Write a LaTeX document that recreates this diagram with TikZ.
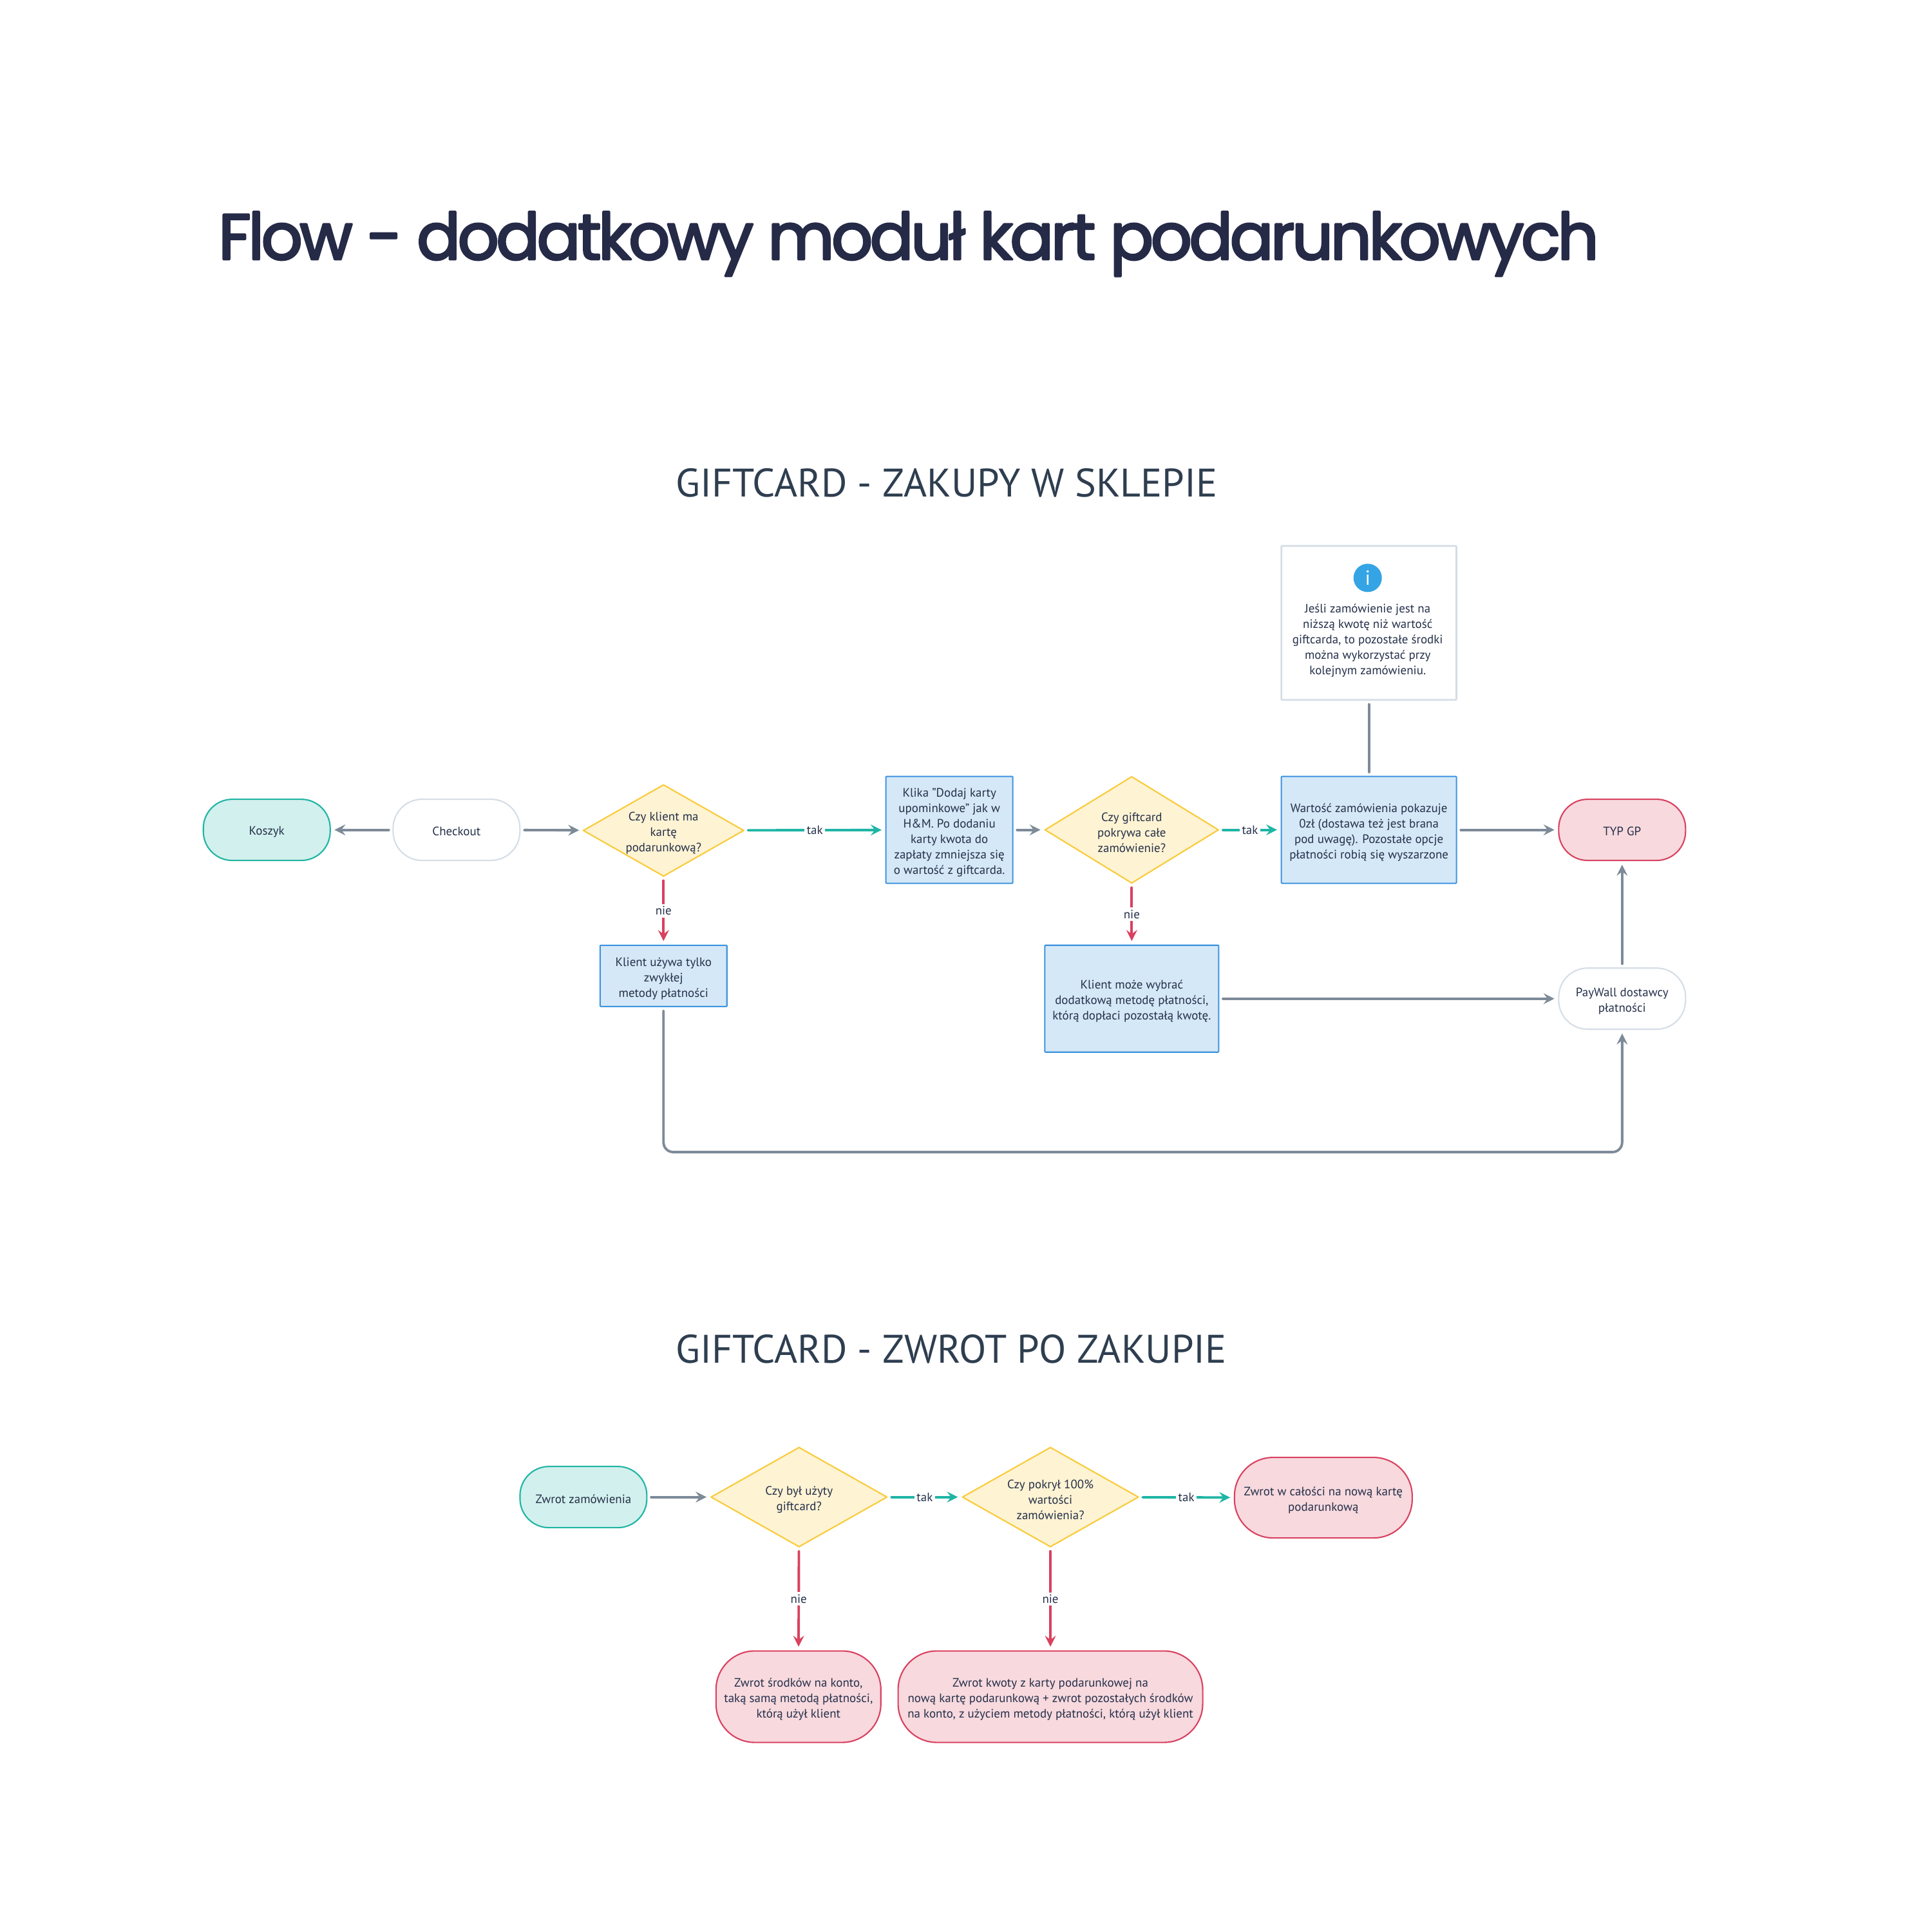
\documentclass[tikz,border=0pt]{standalone}
\usepackage{fontspec}
\setmainfont{PT Sans}
\newfontfamily\titlefont[LetterSpace=-4.4,FakeBold=3.2]{Poppins}
\usetikzlibrary{shapes.geometric}
\definecolor{inkdark}{HTML}{25304A}
\definecolor{titleink}{HTML}{252A47}
\definecolor{headink}{HTML}{2E3E50}
\definecolor{linegrey}{HTML}{7D8A98}
\definecolor{paleedge}{HTML}{D5DDE6}
\definecolor{tealedge}{HTML}{1FB5A5}
\definecolor{tealfill}{HTML}{D2F0ED}
\definecolor{blueedge}{HTML}{3D94E0}
\definecolor{bluefill}{HTML}{D5E8F7}
\definecolor{yellowedge}{HTML}{F9CB3A}
\definecolor{yellowfill}{HTML}{FEF3D3}
\definecolor{rededge}{HTML}{D9415F}
\definecolor{redfill}{HTML}{F7D9DE}
\newcommand{\lowtext}{\rule{0pt}{6.2pt}}
\newcommand{\lowline}{\rule{0pt}{5.4pt}}
\tikzset{
	boxtext/.style={align=center, text=inkdark, inner sep=0pt, font=\fontsize{5.4}{6.8}\selectfont},
	pill/.style={boxtext, rectangle, draw, line width=0.6pt, rounded corners=0.45cm, minimum width=1.97cm, minimum height=0.95cm},
	startpill/.style={pill, draw=tealedge, fill=tealfill},
	plainpill/.style={pill, draw=paleedge, fill=white},
	endpill/.style={pill, draw=rededge, fill=redfill},
	stepbox/.style={boxtext, rectangle, draw=blueedge, fill=bluefill, line width=0.6pt, rounded corners=0.3pt},
	notebox/.style={rectangle, draw=paleedge, fill=white, line width=0.8pt, rounded corners=0.3pt},
	decision/.style={boxtext, diamond, shape aspect=1.7, draw=yellowedge, fill=yellowfill, line width=0.6pt},
	flow/.style={->, line width=1.1pt, draw=linegrey, shorten <=1.6pt, shorten >=1.6pt},
	flowyes/.style={flow, draw=tealedge},
	flowno/.style={flow, draw=rededge},
	edgetext/.style={midway, fill=white, text=inkdark, inner sep=1pt, font=\fontsize{5.4}{6.8}\selectfont},
	headline/.style={anchor=west, text=headink, inner sep=0pt, font=\fontsize{17.6}{20}\selectfont}
}
\begin{document}
\begin{tikzpicture}[x=0.01913cm, y=-0.01913cm, line join=round, line cap=round, >=stealth]
	\useasboundingbox (0,0) rectangle (1568,1568);
	\node[anchor=west, text=titleink, inner sep=0pt, font=\titlefont\fontsize{28.5}{30}\selectfont] (title) at (177,198) {Flow - dodatkowy moduł kart podarunkowych};
	\node[headline] (headshop) at (548,392) {GIFTCARD - ZAKUPY W SKLEPIE};
	\node[headline] (headreturn) at (548,1095) {GIFTCARD - ZWROT PO ZAKUPIE};

	\node[startpill] (cart) at (216.5,673.5) {\lowline Koszyk};
	\node[plainpill] (checkout) at (370.5,673.5) {\lowline Checkout};
	\node[decision, minimum width=2.5cm, minimum height=1.42cm] (hascard) at (538.5,674) {\lowtext Czy klient ma\\kartę\\podarunkową?};
	\node[stepbox, minimum width=1.97cm, minimum height=1.66cm] (addcard) at (770.5,673.5) {\lowtext Klika "Dodaj karty\\upominkowe" jak w\\H\&M. Po dodaniu\\karty kwota do\\zapłaty zmniejsza się\\o wartość z giftcarda.};
	\node[decision, minimum width=2.7cm, minimum height=1.66cm] (covers) at (918.5,673.5) {\lowtext Czy giftcard\\pokrywa całe\\zamówienie?};
	\node[stepbox, minimum width=2.72cm, minimum height=1.66cm] (zerototal) at (1111,673.5) {\lowtext Wartość zamówienia pokazuje\\0zł (dostawa też jest brana\\pod uwagę). Pozostałe opcje\\płatności robią się wyszarzone};
	\node[endpill] (thanks) at (1316.5,673.5) {\lowline TYP GP};
	\node[notebox, minimum width=2.72cm, minimum height=2.39cm] (note) at (1111,505.5) {};
	\node[circle, fill=blueedge!85!cyan, text=white, inner sep=0pt, minimum size=0.44cm, font=\fontsize{9}{9}\selectfont] (noteicon) at (1110,469) {i};
	\node[boxtext] (notetext) at (1110,520) {Jeśli zamówienie jest na\\niższą kwotę niż wartość\\giftcarda, to pozostałe środki\\można wykorzystać przy\\kolejnym zamówieniu.};
	\node[stepbox, minimum width=1.97cm, minimum height=0.95cm] (onlyusual) at (538.5,792) {\lowtext Klient używa tylko\\zwykłej\\metody płatności};
	\node[stepbox, minimum width=2.7cm, minimum height=1.66cm] (extrapay) at (918.5,810.5) {\lowtext Klient może wybrać\\dodatkową metodę płatności,\\którą dopłaci pozostałą kwotę.};
	\node[plainpill] (paywall) at (1316.5,810.5) {\lowtext PayWall dostawcy\\płatności};
	\path (1316.5,935) coordinate (turn);

	\draw[flow] (checkout) -- (cart);
	\draw[flow] (checkout) -- (hascard);
	\draw[flowyes] (hascard) -- node[edgetext] (yesa) {tak} (addcard);
	\draw[flowno] (hascard) -- node[edgetext] (noa) {nie} (onlyusual);
	\draw[flow] (addcard) -- (covers);
	\draw[flowyes] (covers) -- node[edgetext] (yesb) {tak} (zerototal);
	\draw[flowno] (covers) -- node[edgetext] (nob) {nie} (extrapay);
	\draw[flow] (zerototal) -- (thanks);
	\draw[flow, -] (note) -- (zerototal);
	\draw[flow] (extrapay) -- (paywall);
	\draw[flow] (paywall) -- (thanks);
	\draw[flow, rounded corners=0.15cm] (onlyusual.south) |- (turn) -- (paywall.south);

	\node[startpill] (refund) at (473.5,1215) {\lowline Zwrot zamówienia};
	\node[decision, minimum width=2.74cm, minimum height=1.55cm] (usedcard) at (648.5,1215) {\lowtext Czy był użyty\\giftcard?};
	\node[decision, minimum width=2.74cm, minimum height=1.55cm] (fullcover) at (852.5,1215) {\lowtext Czy pokrył 100\%\\wartości\\zamówienia?};
	\node[endpill, minimum width=2.76cm, minimum height=1.25cm, rounded corners=0.6cm] (tonewcard) at (1074,1215.5) {\lowtext Zwrot w całości na nową kartę\\podarunkową};
	\node[endpill, minimum width=2.56cm, minimum height=1.42cm, rounded corners=0.6cm] (toaccount) at (648,1377) {\lowtext Zwrot środków na konto,\\taką samą metodą płatności,\\którą użył klient};
	\node[endpill, minimum width=4.73cm, minimum height=1.42cm, rounded corners=0.6cm] (tosplit) at (852.5,1377) {\lowtext Zwrot kwoty z karty podarunkowej na\\nową kartę podarunkową + zwrot pozostałych środków\\na konto, z użyciem metody płatności, którą użył klient};

	\draw[flow] (refund) -- (usedcard);
	\draw[flowyes] (usedcard) -- node[edgetext] (yesc) {tak} (fullcover);
	\draw[flowyes] (fullcover) -- node[edgetext] (yesd) {tak} (tonewcard);
	\draw[flowno] (usedcard) -- node[edgetext] (noc) {nie} (toaccount);
	\draw[flowno] (fullcover) -- node[edgetext] (nod) {nie} (tosplit);
\end{tikzpicture}
\end{document}
